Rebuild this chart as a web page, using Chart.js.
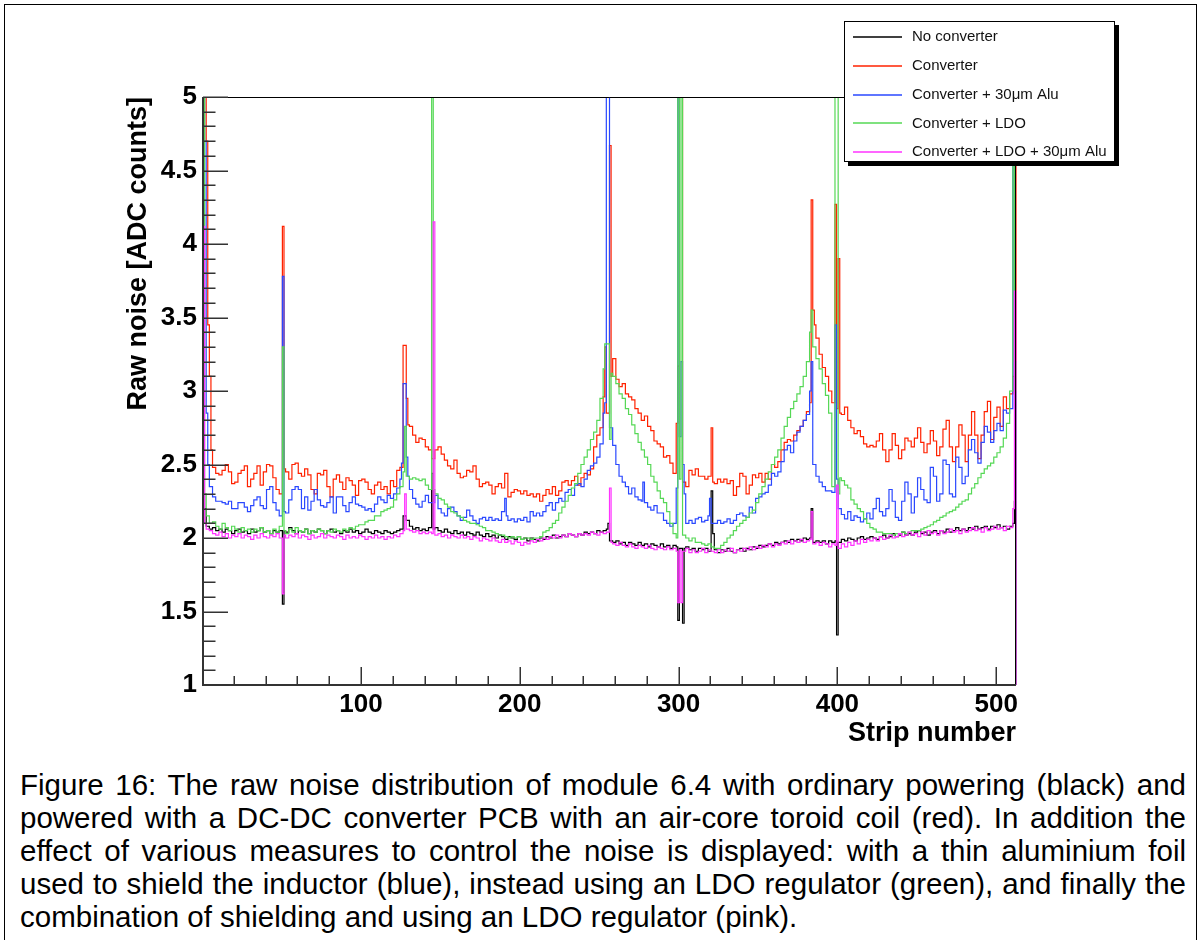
<!DOCTYPE html>
<html>
<head>
<meta charset="utf-8">
<script src="https://cdn.jsdelivr.net/npm/chart.js@4.4.1/dist/chart.umd.min.js"></script>
<style>
html,body{margin:0;padding:0;background:#fff;}
body{width:1202px;height:940px;position:relative;overflow:hidden;font-family:"Liberation Sans",Arial,Helvetica,sans-serif;}
#frame{position:absolute;left:4px;top:4px;width:1193px;height:980px;border:1px solid #000;box-sizing:border-box;}
#c{position:absolute;left:0;top:0;}
#caption{position:absolute;left:20px;top:768px;width:1166px;font-size:29.5px;line-height:33px;text-align:justify;color:#000;}
</style>
</head>
<body>
<div id="frame"></div>
<canvas id="c" width="1202" height="760"></canvas>
<div id="caption">Figure 16: The raw noise distribution of module 6.4 with ordinary powering (black) and powered with a DC-DC converter PCB with an air-core toroid coil (red). In addition the effect of various measures to control the noise is displayed: with a thin aluminium foil used to shield the inductor (blue), instead using an LDO regulator (green), and finally the combination of shielding and using an LDO regulator (pink).</div>
<script>
// ---- series names ----
const seriesNames = ['No converter', 'Converter', 'Converter + 30\u03bcm Alu', 'Converter + LDO', 'Converter + LDO + 30\u03bcm Alu'];

// ---- axis ticks ----
const xTickLabels = [100, 200, 300, 400, 500];
const yTickLabels = [1, 1.5, 2, 2.5, 3, 3.5, 4, 4.5, 5];

// ---- raw noise per pair of strips (strips 2k+1, 2k+2), k = 0..255 ----
const noConverter = [
2.2,2.08,2.06,2.07,2.05,2.06,2.04,2.06,2.05,2.03,
2.05,2.06,2.04,2.05,2.03,2.06,2.04,2.05,2.07,2.04,
2.05,2.03,2.05,2.04,2.05,2.05,2.04,2.07,2.05,2.03,
2.05,2.04,2.06,2.03,2.05,2.04,2.06,2.05,2.03,2.05,
2.06,2.04,2.05,2.03,2.05,2.04,2.06,2.04,2.05,2.03,
2.04,2.06,2.04,2.03,2.05,2.04,2.03,2.05,2.04,2.03,
2.04,2.05,2.06,2.15,2.12,2.08,2.06,2.07,2.05,2.06,
2.05,2.07,2.06,2.07,2.05,2.04,2.06,2.04,2.03,2.05,
2.03,2.04,2.02,2.04,2.03,2.02,2.04,2.02,2.01,2.03,
2.01,2.02,2.0,2.02,2.01,1.99,2.01,2.0,1.99,2.01,
1.99,2.0,1.98,2.0,1.99,1.98,2.0,1.99,2.01,2.0,
2.02,2.0,2.01,2.02,2.01,2.03,2.02,2.01,2.03,2.02,
2.04,2.03,2.04,2.03,2.05,2.04,2.05,2.06,1.98,1.97,
1.98,1.96,1.97,1.95,1.97,1.96,1.95,1.97,1.95,1.96,
1.94,1.96,1.95,1.94,1.96,1.94,1.95,1.93,1.95,1.94,
1.93,1.93,1.94,1.92,1.93,1.91,1.93,1.92,1.93,1.91,
1.95,1.92,1.9,1.92,1.91,1.93,1.91,1.9,1.92,1.93,
1.91,1.93,1.92,1.94,1.93,1.95,1.94,1.95,1.96,1.95,
1.97,1.96,1.97,1.98,1.97,1.99,1.98,1.99,1.98,2.0,
1.99,2.0,1.97,1.98,1.97,1.98,1.96,1.98,1.97,1.98,
1.97,1.99,1.98,2.0,1.99,1.98,2.0,2.01,1.99,2.0,
2.01,2.0,1.99,2.01,2.02,2.0,2.01,2.03,2.01,2.02,
2.04,2.02,2.03,2.02,2.04,2.05,2.03,2.04,2.02,2.04,
2.05,2.03,2.05,2.04,2.06,2.04,2.05,2.07,2.05,2.06,
2.05,2.07,2.06,2.08,2.06,2.07,2.08,2.06,2.08,2.07,
2.09,2.07,2.08,2.06,2.08,2.1];
const converter = [
5.5,3.45,2.6,2.48,2.44,2.43,2.46,2.5,2.45,2.37,
2.38,2.44,2.46,2.49,2.35,2.4,2.44,2.49,2.36,2.45,
2.5,2.49,2.41,2.33,2.3,2.47,2.45,2.4,2.5,2.51,
2.44,2.42,2.47,2.43,2.33,2.3,2.44,2.43,2.46,2.35,
2.28,2.4,2.43,2.38,2.33,2.41,2.39,2.36,2.29,2.39,
2.4,2.38,2.33,2.3,2.36,2.38,2.33,2.35,2.3,2.39,
2.35,2.46,2.48,3.31,2.77,2.76,2.7,2.65,2.68,2.67,
2.62,2.6,2.54,2.6,2.62,2.57,2.53,2.49,2.47,2.53,
2.44,2.41,2.42,2.46,2.45,2.49,2.4,2.35,2.37,2.38,
2.36,2.3,2.35,2.37,2.34,2.44,2.28,2.31,2.33,2.32,
2.3,2.32,2.29,2.3,2.28,2.3,2.25,2.29,2.33,2.3,
2.35,2.29,2.32,2.38,2.39,2.36,2.39,2.42,2.36,2.41,
2.44,2.43,2.47,2.62,2.7,2.75,2.96,2.85,3.1,3.22,
3.08,3.03,3.05,2.98,2.96,2.94,2.88,2.85,2.8,2.83,
2.76,2.73,2.66,2.64,2.62,2.55,2.56,2.51,2.44,2.78,
5.5,2.38,2.35,2.46,2.43,2.47,2.42,2.42,2.4,2.42,
2.38,2.37,2.4,2.38,2.4,2.37,2.39,2.29,2.35,2.44,
2.42,2.3,2.36,2.43,2.41,2.44,2.38,2.44,2.4,2.5,
2.48,2.52,2.6,2.65,2.67,2.66,2.7,2.73,2.76,2.8,
2.86,2.92,3.45,3.36,3.25,3.16,3.1,3.0,2.92,2.88,
2.85,2.84,2.89,2.8,2.75,2.71,2.73,2.69,2.64,2.62,
2.63,2.62,2.66,2.71,2.6,2.52,2.6,2.71,2.63,2.54,
2.6,2.68,2.66,2.62,2.68,2.75,2.65,2.58,2.64,2.73,
2.66,2.56,2.62,2.74,2.8,2.62,2.52,2.62,2.77,2.7,
2.52,2.7,2.86,2.7,2.54,2.7,2.86,2.93,2.67,2.82,
2.89,2.76,2.96,2.88,2.98,3.1];
const converterAlu = [
5.5,2.6,2.35,2.28,2.25,2.25,2.24,2.23,2.25,2.2,
2.2,2.24,2.24,2.21,2.18,2.22,2.26,2.28,2.22,2.2,
2.33,2.35,2.24,2.19,2.15,2.18,2.17,2.26,2.33,2.35,
2.33,2.2,2.28,2.19,2.25,2.33,2.26,2.22,2.21,2.24,
2.28,2.17,2.28,2.28,2.22,2.18,2.24,2.28,2.23,2.22,
2.21,2.19,2.2,2.18,2.23,2.28,2.26,2.24,2.29,2.27,
2.3,2.34,2.4,3.05,2.55,2.33,2.27,2.23,2.21,2.25,
2.29,2.24,2.24,2.29,2.2,2.17,2.15,2.2,2.21,2.18,
2.15,2.12,2.14,2.19,2.15,2.12,2.1,2.13,2.14,2.12,
2.14,2.12,2.13,2.12,2.18,2.15,2.12,2.13,2.11,2.13,
2.12,2.14,2.11,2.18,2.15,2.17,2.15,2.18,2.22,2.24,
2.19,2.24,2.27,2.25,2.31,2.33,2.29,2.36,2.37,2.35,
2.4,2.46,2.49,2.51,2.55,2.64,2.85,5.5,2.75,2.63,
2.5,2.42,2.38,2.35,2.3,2.34,2.28,2.26,2.25,2.24,
2.21,2.19,2.22,2.17,2.17,2.12,2.1,2.08,2.1,2.34,
2.69,2.3,2.1,2.12,2.1,2.13,2.14,2.11,2.12,2.15,
2.1,2.1,2.12,2.1,2.11,2.13,2.1,2.12,2.16,2.17,
2.15,2.14,2.21,2.17,2.27,2.28,2.3,2.31,2.36,2.44,
2.42,2.45,2.52,2.6,2.63,2.58,2.66,2.72,2.76,2.8,
2.84,3.0,2.5,2.42,2.38,2.35,2.32,2.32,2.31,2.4,
2.2,2.16,2.13,2.18,2.12,2.15,2.14,2.11,2.13,2.17,
2.13,2.2,2.27,2.18,2.15,2.2,2.33,2.25,2.14,2.12,
2.25,2.38,2.3,2.17,2.28,2.41,2.33,2.26,2.24,2.48,
2.42,2.25,2.3,2.53,2.5,2.3,2.28,2.55,2.48,2.37,
2.42,2.6,2.67,2.58,2.51,2.65,2.76,2.72,2.65,2.73,
2.78,2.73,2.87,2.85,2.88,2.9];
const converterLDO = [
2.3,2.15,2.1,2.11,2.08,2.06,2.1,2.07,2.05,2.08,
2.06,2.04,2.07,2.05,2.06,2.04,2.06,2.05,2.07,2.04,
2.05,2.03,2.06,2.04,2.08,2.05,2.03,2.06,2.04,2.07,
2.05,2.04,2.06,2.03,2.05,2.04,2.06,2.05,2.03,2.05,
2.04,2.06,2.05,2.04,2.06,2.05,2.07,2.06,2.08,2.09,
2.09,2.11,2.12,2.12,2.15,2.15,2.18,2.19,2.2,2.21,
2.26,2.3,2.35,2.45,2.42,2.4,2.41,2.4,2.39,2.4,
2.36,2.33,2.33,2.3,2.27,2.26,2.23,2.21,2.18,2.17,
2.15,2.14,2.12,2.11,2.1,2.1,2.09,2.08,2.07,2.05,
2.05,2.04,2.03,2.02,2.02,2.01,2.0,2.01,2.0,2.01,
1.99,2.0,2.0,1.99,2.0,2.0,2.01,2.04,2.05,2.07,
2.1,2.12,2.17,2.21,2.25,2.29,2.34,2.37,2.44,2.5,
2.55,2.6,2.67,2.72,2.8,2.95,3.15,3.32,3.12,3.1,
3.05,2.98,2.95,2.88,2.84,2.77,2.71,2.65,2.6,2.55,
2.5,2.42,2.38,2.32,2.27,2.24,2.18,2.1,2.03,2.0,
2.4,2.02,2.0,1.98,2.0,1.97,1.97,1.96,1.95,1.96,
1.94,1.93,1.93,1.95,1.97,2.0,2.02,2.05,2.08,2.1,
2.12,2.14,2.17,2.19,2.24,2.3,2.35,2.4,2.45,2.5,
2.55,2.6,2.68,2.76,2.82,2.88,2.93,2.98,3.03,3.1,
3.2,3.4,3.3,3.22,3.15,3.05,2.97,2.85,2.35,5.5,
2.3,2.39,2.36,2.34,2.26,2.23,2.2,2.18,2.13,2.1,
2.07,2.06,2.04,2.04,2.03,2.03,2.03,2.02,2.03,2.03,
2.04,2.03,2.04,2.05,2.05,2.05,2.06,2.07,2.08,2.09,
2.11,2.12,2.14,2.15,2.17,2.18,2.19,2.21,2.23,2.25,
2.26,2.3,2.34,2.37,2.41,2.44,2.47,2.49,2.51,2.55,
2.58,2.62,2.68,2.78,3.0,3.2];
const converterLDOAlu = [
2.1,2.06,2.05,2.03,2.02,2.04,2.01,2.03,2.0,2.02,
2.01,2.03,2.0,2.02,2.01,1.99,2.02,2.0,2.03,2.01,
2.0,2.02,2.01,2.03,2.0,2.02,2.0,2.02,2.01,2.03,
2.0,2.02,2.01,1.99,2.02,2.0,2.01,2.03,2.0,2.02,
2.01,2.0,2.02,2.01,1.99,2.02,2.0,2.01,2.0,2.02,
2.01,1.99,2.01,2.0,2.02,2.0,2.01,1.99,2.01,2.0,
2.02,2.01,2.03,2.05,2.06,2.05,2.04,2.05,2.03,2.04,
2.03,2.04,2.03,2.02,2.03,2.01,2.02,2.0,2.02,2.01,
2.0,2.02,2.0,2.01,1.99,2.01,2.0,1.98,2.0,1.99,
1.98,2.0,1.98,1.97,1.99,1.97,1.98,1.96,1.98,1.97,
1.95,1.97,1.96,1.98,1.97,1.99,1.98,2.0,1.99,2.01,
2.0,2.02,2.0,2.02,2.01,2.03,2.02,2.01,2.03,2.02,
2.03,2.02,2.04,2.03,2.02,2.04,2.03,2.04,1.97,1.96,
1.95,1.97,1.95,1.94,1.96,1.94,1.93,1.95,1.94,1.93,
1.95,1.93,1.92,1.94,1.93,1.92,1.94,1.92,1.93,1.91,
1.92,1.91,1.93,1.9,1.92,1.9,1.91,1.93,1.9,1.92,
1.91,1.9,1.92,1.9,1.92,1.91,1.93,1.9,1.92,1.91,
1.93,1.92,1.94,1.92,1.94,1.93,1.95,1.94,1.96,1.94,
1.96,1.95,1.97,1.96,1.98,1.96,1.98,1.97,1.99,1.97,
1.98,1.99,1.96,1.97,1.95,1.97,1.96,1.94,1.96,1.95,
1.93,1.96,1.94,1.97,1.95,1.98,1.96,1.99,1.97,1.99,
1.98,2.0,1.98,2.01,1.99,2.0,2.02,2.0,2.01,2.03,
2.01,2.02,2.04,2.02,2.03,2.01,2.04,2.02,2.05,2.03,
2.04,2.02,2.05,2.03,2.04,2.06,2.04,2.05,2.03,2.06,
2.04,2.05,2.07,2.05,2.06,2.04,2.07,2.05,2.06,2.08,
2.06,2.07,2.05,2.08,2.07,2.2];

// ---- single-strip values (strip number, raw noise) ----
const noConverterStrips = [[1,2.3],[51,1.55],[145,2.44],[256,2.1],[300,1.44],[303,1.42],[321,2.32],[322,2.03],[384,2.2],[400,1.34],[512,2.25]];
const converterStrips = [[1,5.5],[2,5.5],[3,4.7],[4,3.45],[5,3.1],[6,2.6],[51,4.12],[129,2.95],[254,3.3],[257,4.67],[299,2.78],[300,3.17],[301,5.5],[302,5.5],[321,2.75],[384,4.3],[385,3.55],[399,4.27],[401,3.9],[512,5.5]];
const converterAluStrips = [[2,4.7],[3,2.85],[4,2.5],[51,3.78],[126,2.51],[130,2.42],[191,2.27],[254,2.92],[278,2.38],[299,2.34],[300,5.5],[302,3.2],[303,2.5],[320,2.27],[384,3.2],[399,3.45],[511,5.5],[512,3.0]];
const converterLDOStrips = [[1,5.5],[51,3.3],[128,2.76],[145,5.5],[254,3.32],[257,2.67],[300,5.5],[302,5.5],[384,3.55],[402,2.41],[511,4.6]];
const converterLDOAluStrips = [[1,4.12],[51,1.62],[128,2.3],[146,4.15],[257,2.34],[300,1.56],[302,1.56],[384,2.18],[400,2.36],[512,3.68]];

const colors = ['#000000', '#ff2200', '#2a48ff', '#55d855', '#ff33ff'];

function histogram(pairs, strips) {
  const v = [];
  for (let s = 1; s <= pairs.length * 2; s++) v.push(pairs[Math.floor((s - 1) / 2)]);
  strips.forEach(([s, y]) => { v[s - 1] = y; });
  const pts = [{x: 0.5, y: 0}];
  v.forEach((y, i) => pts.push({x: i + 0.5, y: y}));
  pts.push({x: v.length + 0.5, y: v[v.length - 1]});
  pts.push({x: v.length + 0.5, y: 0});
  return pts;
}

const allSeries = [
  [noConverter, noConverterStrips],
  [converter, converterStrips],
  [converterAlu, converterAluStrips],
  [converterLDO, converterLDOStrips],
  [converterLDOAlu, converterLDOAluStrips]
];

const FONT = '"Liberation Sans", Arial, Helvetica, sans-serif';

const rootFrame = {
  id: 'rootFrame',
  afterDatasetsDraw(chart) {
    const {ctx, chartArea: a, scales: {x, y}} = chart;
    ctx.save();
    ctx.strokeStyle = '#000';
    ctx.lineWidth = 1;
    ctx.beginPath();
    ctx.moveTo(a.left, a.top + 0.5); ctx.lineTo(a.right, a.top + 0.5);
    ctx.moveTo(a.right - 0.5, a.top); ctx.lineTo(a.right - 0.5, a.bottom);
    ctx.stroke();
    ctx.strokeStyle = '#333';
    ctx.lineWidth = 2;
    ctx.beginPath();
    ctx.moveTo(a.left, a.top); ctx.lineTo(a.left, a.bottom);
    ctx.lineTo(a.right, a.bottom);
    ctx.stroke();
    ctx.lineWidth = 1.5;
    ctx.beginPath();
    for (let v = 1; v <= 5.0001; v += 0.1) {
      const r = Math.round(v * 10) / 10;
      const major = yTickLabels.includes(r);
      const py = Math.round(y.getPixelForValue(r)) + 0.25;
      ctx.moveTo(a.left, py); ctx.lineTo(a.left + (major ? 25 : 12.5), py);
    }
    for (let v = 20; v <= x.max; v += 20) {
      const major = xTickLabels.includes(v);
      const px = Math.round(x.getPixelForValue(v)) + 0.25;
      ctx.moveTo(px, a.bottom); ctx.lineTo(px, a.bottom - (major ? 18 : 9));
    }
    ctx.stroke();
    ctx.restore();
  },
  afterDraw(chart) {
    const {ctx} = chart;
    const bx = 844, by = 21, bw = 271, bh = 141;
    ctx.save();
    ctx.fillStyle = '#000';
    ctx.fillRect(bx + 4, by + 4, bw, bh);
    ctx.fillStyle = '#fff';
    ctx.fillRect(bx, by, bw, bh);
    ctx.strokeStyle = '#000';
    ctx.lineWidth = 1;
    ctx.strokeRect(bx + 0.5, by + 0.5, bw - 1, bh - 1);
    ctx.font = '15px ' + FONT;
    ctx.textBaseline = 'middle';
    chart.data.datasets.forEach((ds, i) => {
      const ry = 37 + i * 28.8;
      ctx.strokeStyle = ds.borderColor;
      ctx.lineWidth = 1.6;
      ctx.beginPath();
      ctx.moveTo(853, Math.round(ry)); ctx.lineTo(902, Math.round(ry));
      ctx.stroke();
      ctx.fillStyle = '#111';
      ctx.fillText(ds.label, 912, ry);
    });
    ctx.restore();
  }
};

new Chart(document.getElementById('c'), {
  type: 'line',
  data: {
    datasets: allSeries.map(([pairs, strips], i) => ({
      label: seriesNames[i],
      data: histogram(pairs, strips),
      borderColor: colors[i],
      borderWidth: 1.2,
      pointRadius: 0,
      stepped: true,
      tension: 0,
      fill: false,
      order: 5 - i,
      clip: {left: 0, top: 0, right: 1, bottom: 0}
    }))
  },
  options: {
    responsive: false,
    animation: false,
    devicePixelRatio: 1,
    layout: {padding: {left: 0, top: 97, right: 186, bottom: 0}},
    plugins: {legend: {display: false}, tooltip: {enabled: false}},
    scales: {
      x: {
        type: 'linear', min: 0.5, max: 512.5,
        afterBuildTicks: s => { s.ticks = xTickLabels.map(v => ({value: v})); },
        afterFit: s => { s.height = 75; },
        grid: {display: false, drawTicks: false},
        border: {display: false},
        ticks: {autoSkip: false, maxRotation: 0, padding: 4, color: '#000',
                font: {family: FONT, size: 26, weight: 'bold'}, callback: v => String(v)},
        title: {display: true, text: 'Strip number', align: 'end', color: '#000',
                font: {family: FONT, size: 27, weight: 'bold'}, padding: {top: 0, bottom: 10}}
      },
      y: {
        type: 'linear', min: 1, max: 5,
        afterBuildTicks: s => { s.ticks = yTickLabels.map(v => ({value: v})); },
        afterFit: s => { s.width = 203; },
        grid: {display: false, drawTicks: false},
        border: {display: false},
        ticks: {autoSkip: false, padding: 6, color: '#000',
                font: {family: FONT, size: 26, weight: 'bold'}, callback: v => String(v)},
        title: {display: true, text: 'Raw noise [ADC counts]', align: 'end', color: '#000',
                font: {family: FONT, size: 27, weight: 'bold'}, padding: {top: 122, bottom: 0}}
      }
    }
  },
  plugins: [rootFrame]
});
</script>
</body>
</html>
